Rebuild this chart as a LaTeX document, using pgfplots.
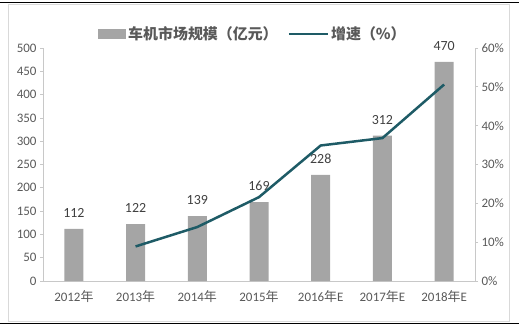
\documentclass[border=0pt]{standalone}
\usepackage{pgfplots}
\pgfplotsset{compat=1.18}
\usepackage{fontspec}
\setmainfont{Carlito}
\newfontfamily\cjk{Noto Sans CJK SC}
\definecolor{bargray}{HTML}{A5A5A5}
\definecolor{linecol}{HTML}{1E5B66}
\definecolor{axgray}{HTML}{C8C8C8}
\definecolor{txt}{HTML}{595959}
\definecolor{lab}{HTML}{404040}
\begin{document}
\begin{tikzpicture}[x=1bp,y=1bp]
\useasboundingbox (0,0) rectangle (519,326);
\draw[color=black!15, line width=0.8bp] (8,322) rectangle (509,5);
\draw[black, line width=1.6bp] (0,323.6) -- (519,323.6);
\draw[black, line width=1.6bp] (0,2.4) -- (519,2.4);
\begin{axis}[
  at={(43bp,45bp)}, anchor=south west, scale only axis,
  width=432bp, height=233bp,
  xmin=-0.5, xmax=6.5, ymin=0, ymax=500,
  axis y line*=left, axis x line*=bottom,
  axis line style={axgray, line width=0.8bp},
  xtick={0,...,6},
  xticklabels={2012{\cjk 年},2013{\cjk 年},2014{\cjk 年},2015{\cjk 年},2016{\cjk 年}E,2017{\cjk 年}E,2018{\cjk 年}E},
  x tick style={draw=none},
  xticklabel style={yshift=-3bp},
  ytick={0,50,...,500},
  y tick style={axgray, line width=0.8bp},
  tick align=outside, major tick length=3bp,
  /pgf/number format/assume math mode=true,
  ticklabel style={font=\fontsize{13}{13}\selectfont, text=txt},
  legend style={at={(0.486,1.06)}, anchor=center, draw=none, fill=none,
    legend columns=2, font=\cjk\bfseries\fontsize{15}{15}\selectfont, text=txt,
    /tikz/every even column/.append style={column sep=8bp}},
]
\addplot[ybar, fill=bargray, draw=none, bar width=19bp,
  nodes near coords,
  nodes near coords style={font=\fontsize{14}{14}\selectfont, text=lab, inner sep=0pt, anchor=south, yshift=11bp},
  legend image code/.code={\fill[bargray] (0bp,-5bp) rectangle (28bp,5bp);}]
  coordinates {(0,112) (1,122) (2,139) (3,169) (4,228) (5,312) (6,470)};
\addlegendentry{车机市场规模（亿元）}
\addlegendimage{legend image code/.code={\draw[linecol, line width=2.5bp] (0bp,0bp) -- (39bp,0bp);}}
\addlegendentry{增速（\%）}
\end{axis}
\begin{axis}[
  at={(43bp,45bp)}, anchor=south west, scale only axis,
  width=432bp, height=233bp,
  xmin=-0.5, xmax=6.5, ymin=0, ymax=60,
  axis y line*=right, axis x line=none,
  axis line style={axgray, line width=0.8bp},
  ytick={0,10,...,60},
  yticklabel={\pgfmathprintnumber{\tick}\%},
  y tick style={axgray, line width=0.8bp},
  tick align=outside, major tick length=3bp,
  /pgf/number format/assume math mode=true,
  ticklabel style={font=\fontsize{13}{13}\selectfont, text=txt},
]
\addplot[linecol, line width=2.5bp, line join=round, mark=none]
  coordinates {(1,8.9) (2,13.9) (3,21.6) (4,34.9) (5,36.8) (6,50.6)};
\end{axis}
\end{tikzpicture}
\end{document}
